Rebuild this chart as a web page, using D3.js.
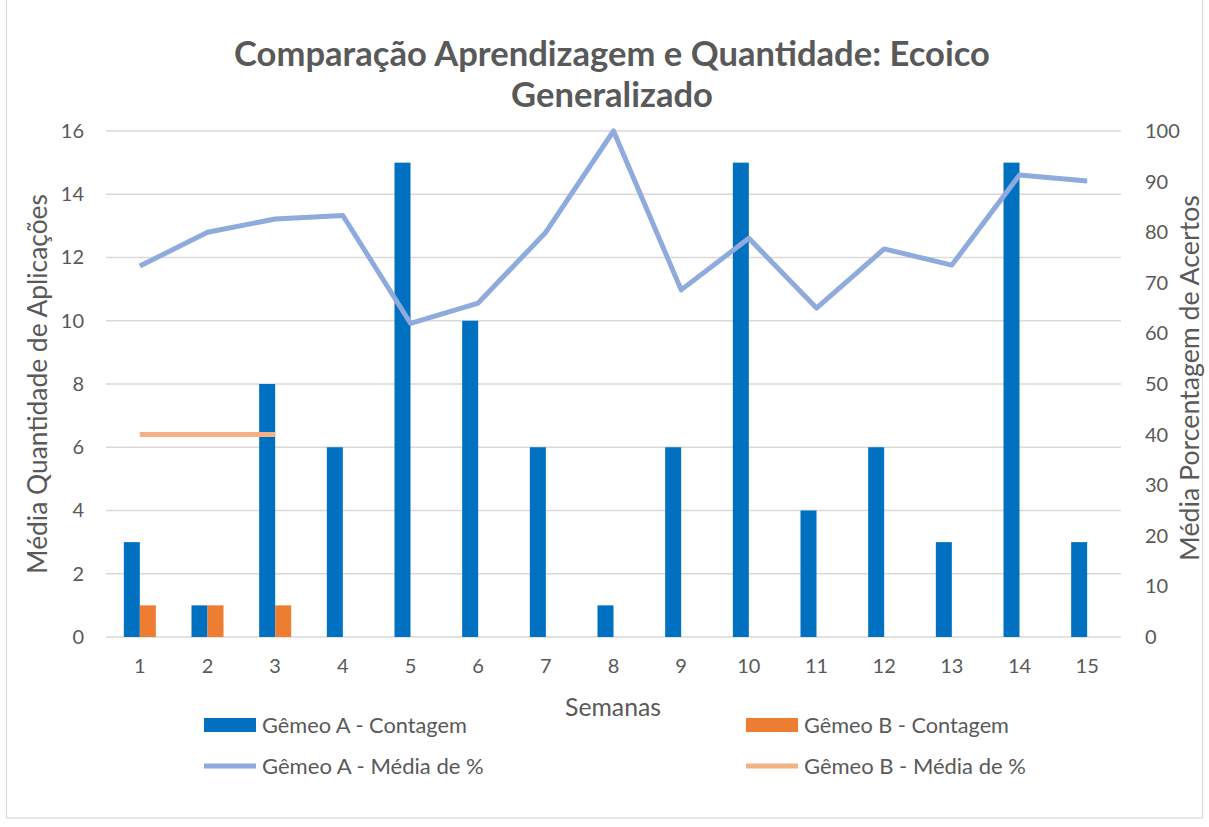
<!DOCTYPE html>
<html><head><meta charset="utf-8">
<script src="https://cdn.jsdelivr.net/npm/d3@7"></script>
<style>body{margin:0;background:#fff}svg{display:block}text{font-family:Lato,"Open Sans",sans-serif;fill:#595959}</style>
</head><body>
<svg id="c" width="1209" height="827"></svg>
<script>
const weeks = ["1","2","3","4","5","6","7","8","9","10","11","12","13","14","15"];
const gemeoAContagem = [3,1,8,6,15,10,6,1,6,15,4,6,3,15,3];
const gemeoBContagem = [1,1,1,null,null,null,null,null,null,null,null,null,null,null,null];
const gemeoAMedia = [73.3,80,82.6,83.3,62,66,80,100,68.6,78.8,65,76.7,73.5,91.3,90.1];
const gemeoBMedia = [40,40,40,null,null,null,null,null,null,null,null,null,null,null,null];
const leftTicks = [0,2,4,6,8,10,12,14,16];
const rightTicks = [0,10,20,30,40,50,60,70,80,90,100];
const titleLines = ["Comparação Aprendizagem e Quantidade: Ecoico","Generalizado"];
const seriesNames = ["Gêmeo A - Contagem","Gêmeo B - Contagem","Gêmeo A - Média de %","Gêmeo B - Média de %"];

const svg = d3.select("#c");
const L=106, R=1121, T=131, B=637;
const cBlue="#0070C0", cOrange="#ED7D31", cLBlue="#8FAADC", cLOrange="#F4B183", grid="#d9d9d9";

svg.append("rect").attr("x",6.5).attr("y",-2).attr("width",1196).attr("height",820)
  .attr("fill","none").attr("stroke","#d9d9d9").attr("stroke-width",1.2);

const x = d3.scaleBand().domain(weeks).range([L,R]).padding(0);
const yL = d3.scaleLinear().domain([0,16]).range([B,T]);
const yR = d3.scaleLinear().domain([0,100]).range([B,T]);
const bw = x.bandwidth();
const barW = 16;
const xs = d3.scaleBand().domain(["A","B"]).range([bw/2-barW, bw/2+barW]);

function fit(sel, target){
  const w = sel.node().getComputedTextLength();
  const fs = parseFloat(sel.attr("font-size"));
  sel.attr("font-size", fs*target/w);
}

// gridlines
svg.append("g").selectAll("line").data(leftTicks).join("line")
  .attr("x1",L).attr("x2",R).attr("y1",d=>yL(d)).attr("y2",d=>yL(d))
  .attr("stroke",grid).attr("stroke-width",1.5);

// left axis
const ga = svg.append("g").attr("transform",`translate(${L},0)`)
  .call(d3.axisLeft(yL).tickValues(leftTicks).tickSize(0).tickPadding(22));
ga.select(".domain").remove();
ga.selectAll("text").attr("font-size",20).attr("fill","#595959").style("font-family","Lato");

const gr = svg.append("g").attr("transform",`translate(${R},0)`)
  .call(d3.axisRight(yR).tickValues(rightTicks).tickSize(0).tickPadding(24));
gr.select(".domain").remove();
gr.selectAll("text").attr("font-size",20).attr("fill","#595959").style("font-family","Lato");

const gb = svg.append("g").attr("transform",`translate(0,${B})`)
  .call(d3.axisBottom(x).tickSize(0).tickPadding(22));
gb.select(".domain").remove();
gb.selectAll("text").attr("font-size",20).attr("fill","#595959").style("font-family","Lato");

// bars
svg.append("g").selectAll("rect").data(gemeoAContagem).join("rect")
  .attr("x",(d,i)=>x(weeks[i])+xs("A")).attr("width",xs.bandwidth())
  .attr("y",d=>yL(d)).attr("height",d=>yL(0)-yL(d)).attr("fill",cBlue);
svg.append("g").selectAll("rect").data(gemeoBContagem.map((v,i)=>({v,i})).filter(d=>d.v!=null)).join("rect")
  .attr("x",d=>x(weeks[d.i])+xs("B")).attr("width",xs.bandwidth())
  .attr("y",d=>yL(d.v)).attr("height",d=>yL(0)-yL(d.v)).attr("fill",cOrange);

// lines
const line = d3.line().defined(d=>d.v!=null).x(d=>x(weeks[d.i])+bw/2).y(d=>yR(d.v));
svg.append("path").datum(gemeoAMedia.map((v,i)=>({v,i})))
  .attr("d",line).attr("fill","none").attr("stroke",cLBlue).attr("stroke-width",5).attr("stroke-linejoin","round");
svg.append("path").datum(gemeoBMedia.map((v,i)=>({v,i})))
  .attr("d",line).attr("fill","none").attr("stroke",cLOrange).attr("stroke-width",5);

// title
const t1 = svg.append("text").attr("x",612).attr("y",66).attr("text-anchor","middle")
  .attr("font-size",30).attr("font-weight","bold").text(titleLines[0]);
fit(t1,756);
const t2 = svg.append("text").attr("x",612).attr("y",107).attr("text-anchor","middle")
  .attr("font-size",+t1.attr("font-size")).attr("font-weight","bold").text(titleLines[1]);

// axis titles
const at = svg.append("text").attr("x",613).attr("y",716).attr("text-anchor","middle").attr("font-size",21).text("Semanas");
fit(at,96);
const al = svg.append("text").attr("transform","translate(47,384) rotate(-90)").attr("text-anchor","middle").attr("font-size",21).text("Média Quantidade de Aplicações");
fit(al,380);
const ar = svg.append("text").attr("transform","translate(1199,378) rotate(-90)").attr("text-anchor","middle").attr("font-size",21).text("Média Porcentagem de Acertos");
fit(ar,366);

// legend
const leg = [
  {name:seriesNames[0], type:"rect", color:cBlue, x:204, y:725},
  {name:seriesNames[1], type:"rect", color:cOrange, x:746, y:725},
  {name:seriesNames[2], type:"line", color:cLBlue, x:204, y:766},
  {name:seriesNames[3], type:"line", color:cLOrange, x:746, y:766}
];
const lg = svg.append("g").selectAll("g").data(leg).join("g").attr("transform",d=>`translate(${d.x},${d.y})`);
lg.filter(d=>d.type==="rect").append("rect").attr("x",0).attr("y",-7).attr("width",52).attr("height",14).attr("fill",d=>d.color);
lg.filter(d=>d.type==="line").append("line").attr("x1",0).attr("x2",52).attr("y1",0).attr("y2",0).attr("stroke",d=>d.color).attr("stroke-width",5);
lg.append("text").attr("x",58).attr("y",7.5).attr("font-size",20).text(d=>d.name).each(function(d,i){
  const target = [205,205,222,222][i];
  fit(d3.select(this),target);
});
</script>
</body></html>
